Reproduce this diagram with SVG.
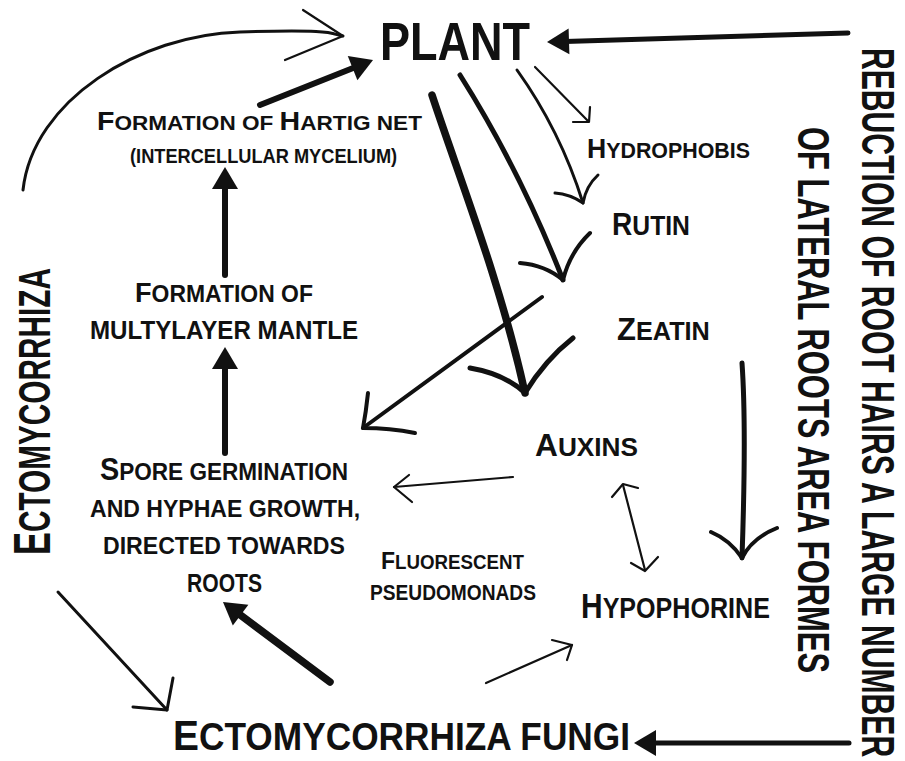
<svg xmlns="http://www.w3.org/2000/svg" width="905" height="761" viewBox="0 0 905 761">
<style>
.t{font-family:"Liberation Sans",Arial,sans-serif;font-weight:700;fill:#111}
.c{fill:none;stroke:#111;stroke-linecap:round;stroke-linejoin:round}
.w2{stroke-width:2.2}
.w3{stroke-width:3}
.w4{stroke-width:4}
.w5{stroke-width:5}
.w6{stroke-width:6}
.w7{stroke-width:7.5}
</style>
<defs>
<marker id="fh" markerUnits="userSpaceOnUse" viewBox="-5 -15 25 30" refX="0" refY="0" markerWidth="25" markerHeight="30" orient="auto">
<path d="M-4,-13 L18,0 L-4,13 Z" fill="#111"/>
</marker>
</defs>
<rect width="905" height="761" fill="#fff"/>

<g id="connectors">
<path class="c w3" d="M23,190 C33,100 140,35 240,32 S330,34 343,36"/>
<path class="c w2" d="M303,10 L343,36 L285,60"/>
<path class="c w6" d="M260,105 L356.3,66.7" marker-end="url(#fh)"/>
<path class="c w6" d="M225,275 L225,185" marker-end="url(#fh)"/>
<path class="c w6" d="M225,453 L225,365" marker-end="url(#fh)"/>
<path class="c w7" d="M330,682 L237.4,612.8" marker-end="url(#fh)"/>
<path class="c w5" d="M848,33 L565,41.5" marker-end="url(#fh)"/>
<path class="c w5" d="M849,743 L652,743" marker-end="url(#fh)"/>
<path class="c w3" d="M58,592 L167,710"/>
<path class="c w3" d="M173,678 L167,710 L133,707"/>
<path class="c w2" d="M486,683 L572,645"/>
<path class="c w2" d="M552,640 L572,645 L567,660"/>
<path class="c w2" d="M513,477 L394,487"/>
<path class="c w2" d="M409,475 L394,487 L412,502"/>
<path class="c w2" d="M623,485 L645,570"/>
<path class="c w2" d="M612,497 L623,484 L638,488"/>
<path class="c w2" d="M631,563 L645,571 L658,557"/>
<path class="c w5" d="M742,363 C746,420 744,500 742,558"/>
<path class="c w4" d="M711,532 Q730,540 742,558 Q752,538 777,528"/>
<path class="c w2" d="M535,67 L588,121"/>
<path class="c w2" d="M573,122 L589,122 L590,107"/>
<path class="c w3" d="M517,70 Q560,130 583,203"/>
<path class="c w3" d="M598,175 Q586,186 583,203 Q570,194 555,193"/>
<path class="c w5" d="M460,75 Q520,170 563,280"/>
<path class="c w4" d="M590,233 Q570,252 563,280 Q545,265 520,263"/>
<path class="c w7" d="M432,95 C460,180 500,280 525,393"/>
<path class="c w5" d="M573,338 Q545,360 525,393 Q505,374 470,368"/>
<path class="c w4" d="M542,297 L363,428"/>
<path class="c w4" d="M368,393 Q366,412 363,428 Q390,428 415,433"/>
</g>

<g id="plant"><text class="t" transform="translate(380,60) scale(0.849,1)" font-size="53" textLength="176.7" lengthAdjust="spacingAndGlyphs">PLANT</text></g>

<g id="hartig">
<text class="t" transform="translate(97,130) scale(1.07,1)" font-size="21" textLength="303.7" lengthAdjust="spacingAndGlyphs"><tspan font-size="26.5">F</tspan>ORMATION OF <tspan font-size="26.5">H</tspan>ARTIG NET</text>
<text class="t" transform="translate(130,163) scale(0.934,1)" font-size="19.5" textLength="286" lengthAdjust="spacingAndGlyphs">(INTERCELLULAR MYCELIUM)</text>
</g>

<g id="hydrophobis"><text class="t" transform="translate(587,158) scale(0.953,1)" font-size="22.5" textLength="171" lengthAdjust="spacingAndGlyphs"><tspan font-size="28">H</tspan>YDROPHOBIS</text></g>
<g id="rutin"><text class="t" transform="translate(612,235) scale(0.915,1)" font-size="27" textLength="85.2" lengthAdjust="spacingAndGlyphs"><tspan font-size="30.7">R</tspan>UTIN</text></g>
<g id="zeatin"><text class="t" transform="translate(617,340) scale(0.99,1)" font-size="25" textLength="93.8" lengthAdjust="spacingAndGlyphs"><tspan font-size="30.7">Z</tspan>EATIN</text></g>

<g id="mantle">
<text class="t" transform="translate(135,302) scale(0.959,1)" font-size="23.7" textLength="185.6" lengthAdjust="spacingAndGlyphs"><tspan font-size="28">F</tspan>ORMATION OF</text>
<text class="t" transform="translate(90,339) scale(0.932,1)" font-size="25.5" textLength="287.6" lengthAdjust="spacingAndGlyphs">MULTYLAYER MANTLE</text>
</g>

<g id="spore">
<text class="t" transform="translate(100,480) scale(0.933,1)" font-size="24" textLength="265.9" lengthAdjust="spacingAndGlyphs"><tspan font-size="30.7">S</tspan>PORE GERMINATION</text>
<text class="t" transform="translate(90,517) scale(0.96,1)" font-size="24" textLength="281.3" lengthAdjust="spacingAndGlyphs">AND HYPHAE GROWTH,</text>
<text class="t" transform="translate(103,554) scale(0.955,1)" font-size="24" textLength="253.3" lengthAdjust="spacingAndGlyphs">DIRECTED TOWARDS</text>
<text class="t" transform="translate(187,592) scale(0.844,1)" font-size="25" textLength="88.9" lengthAdjust="spacingAndGlyphs">ROOTS</text>
</g>

<g id="auxins"><text class="t" transform="translate(535,456) scale(0.99,1)" font-size="26.5" textLength="104.1" lengthAdjust="spacingAndGlyphs"><tspan font-size="32">A</tspan>UXINS</text></g>

<g id="fluorescent">
<text class="t" transform="translate(381,569) scale(0.936,1)" font-size="20" textLength="152.8" lengthAdjust="spacingAndGlyphs"><tspan font-size="24.5">F</tspan>LUORESCENT</text>
<text class="t" transform="translate(370,600) scale(0.851,1)" font-size="22.5" textLength="195" lengthAdjust="spacingAndGlyphs">PSEUDOMONADS</text>
</g>

<g id="hypophorine"><text class="t" transform="translate(581,618) scale(0.856,1)" font-size="29.3" textLength="220.7" lengthAdjust="spacingAndGlyphs"><tspan font-size="35">H</tspan>YPOPHORINE</text></g>

<g id="fungi"><text class="t" transform="translate(173,750) scale(0.887,1)" font-size="39" textLength="515.3" lengthAdjust="spacingAndGlyphs"><tspan font-size="43">E</tspan>CTOMYCORRHIZA FUNGI</text></g>

<g id="ectomycorrhiza"><text class="t" transform="translate(50,555) rotate(-90) scale(0.651,1)" font-size="44.7" textLength="440.7" lengthAdjust="spacingAndGlyphs"><tspan font-size="51.7">E</tspan>CTOMYCORRHIZA</text></g>

<g id="rebuction">
<text class="t" transform="translate(862,48) rotate(90) scale(0.653,1)" font-size="46" textLength="1086" lengthAdjust="spacingAndGlyphs">REBUCTION OF ROOT HAIRS A LARGE NUMBER</text>
<text class="t" transform="translate(798,127) rotate(90) scale(0.685,1)" font-size="44.7" textLength="797.2" lengthAdjust="spacingAndGlyphs">OF LATERAL ROOTS AREA FORMES</text>
</g>
</svg>
